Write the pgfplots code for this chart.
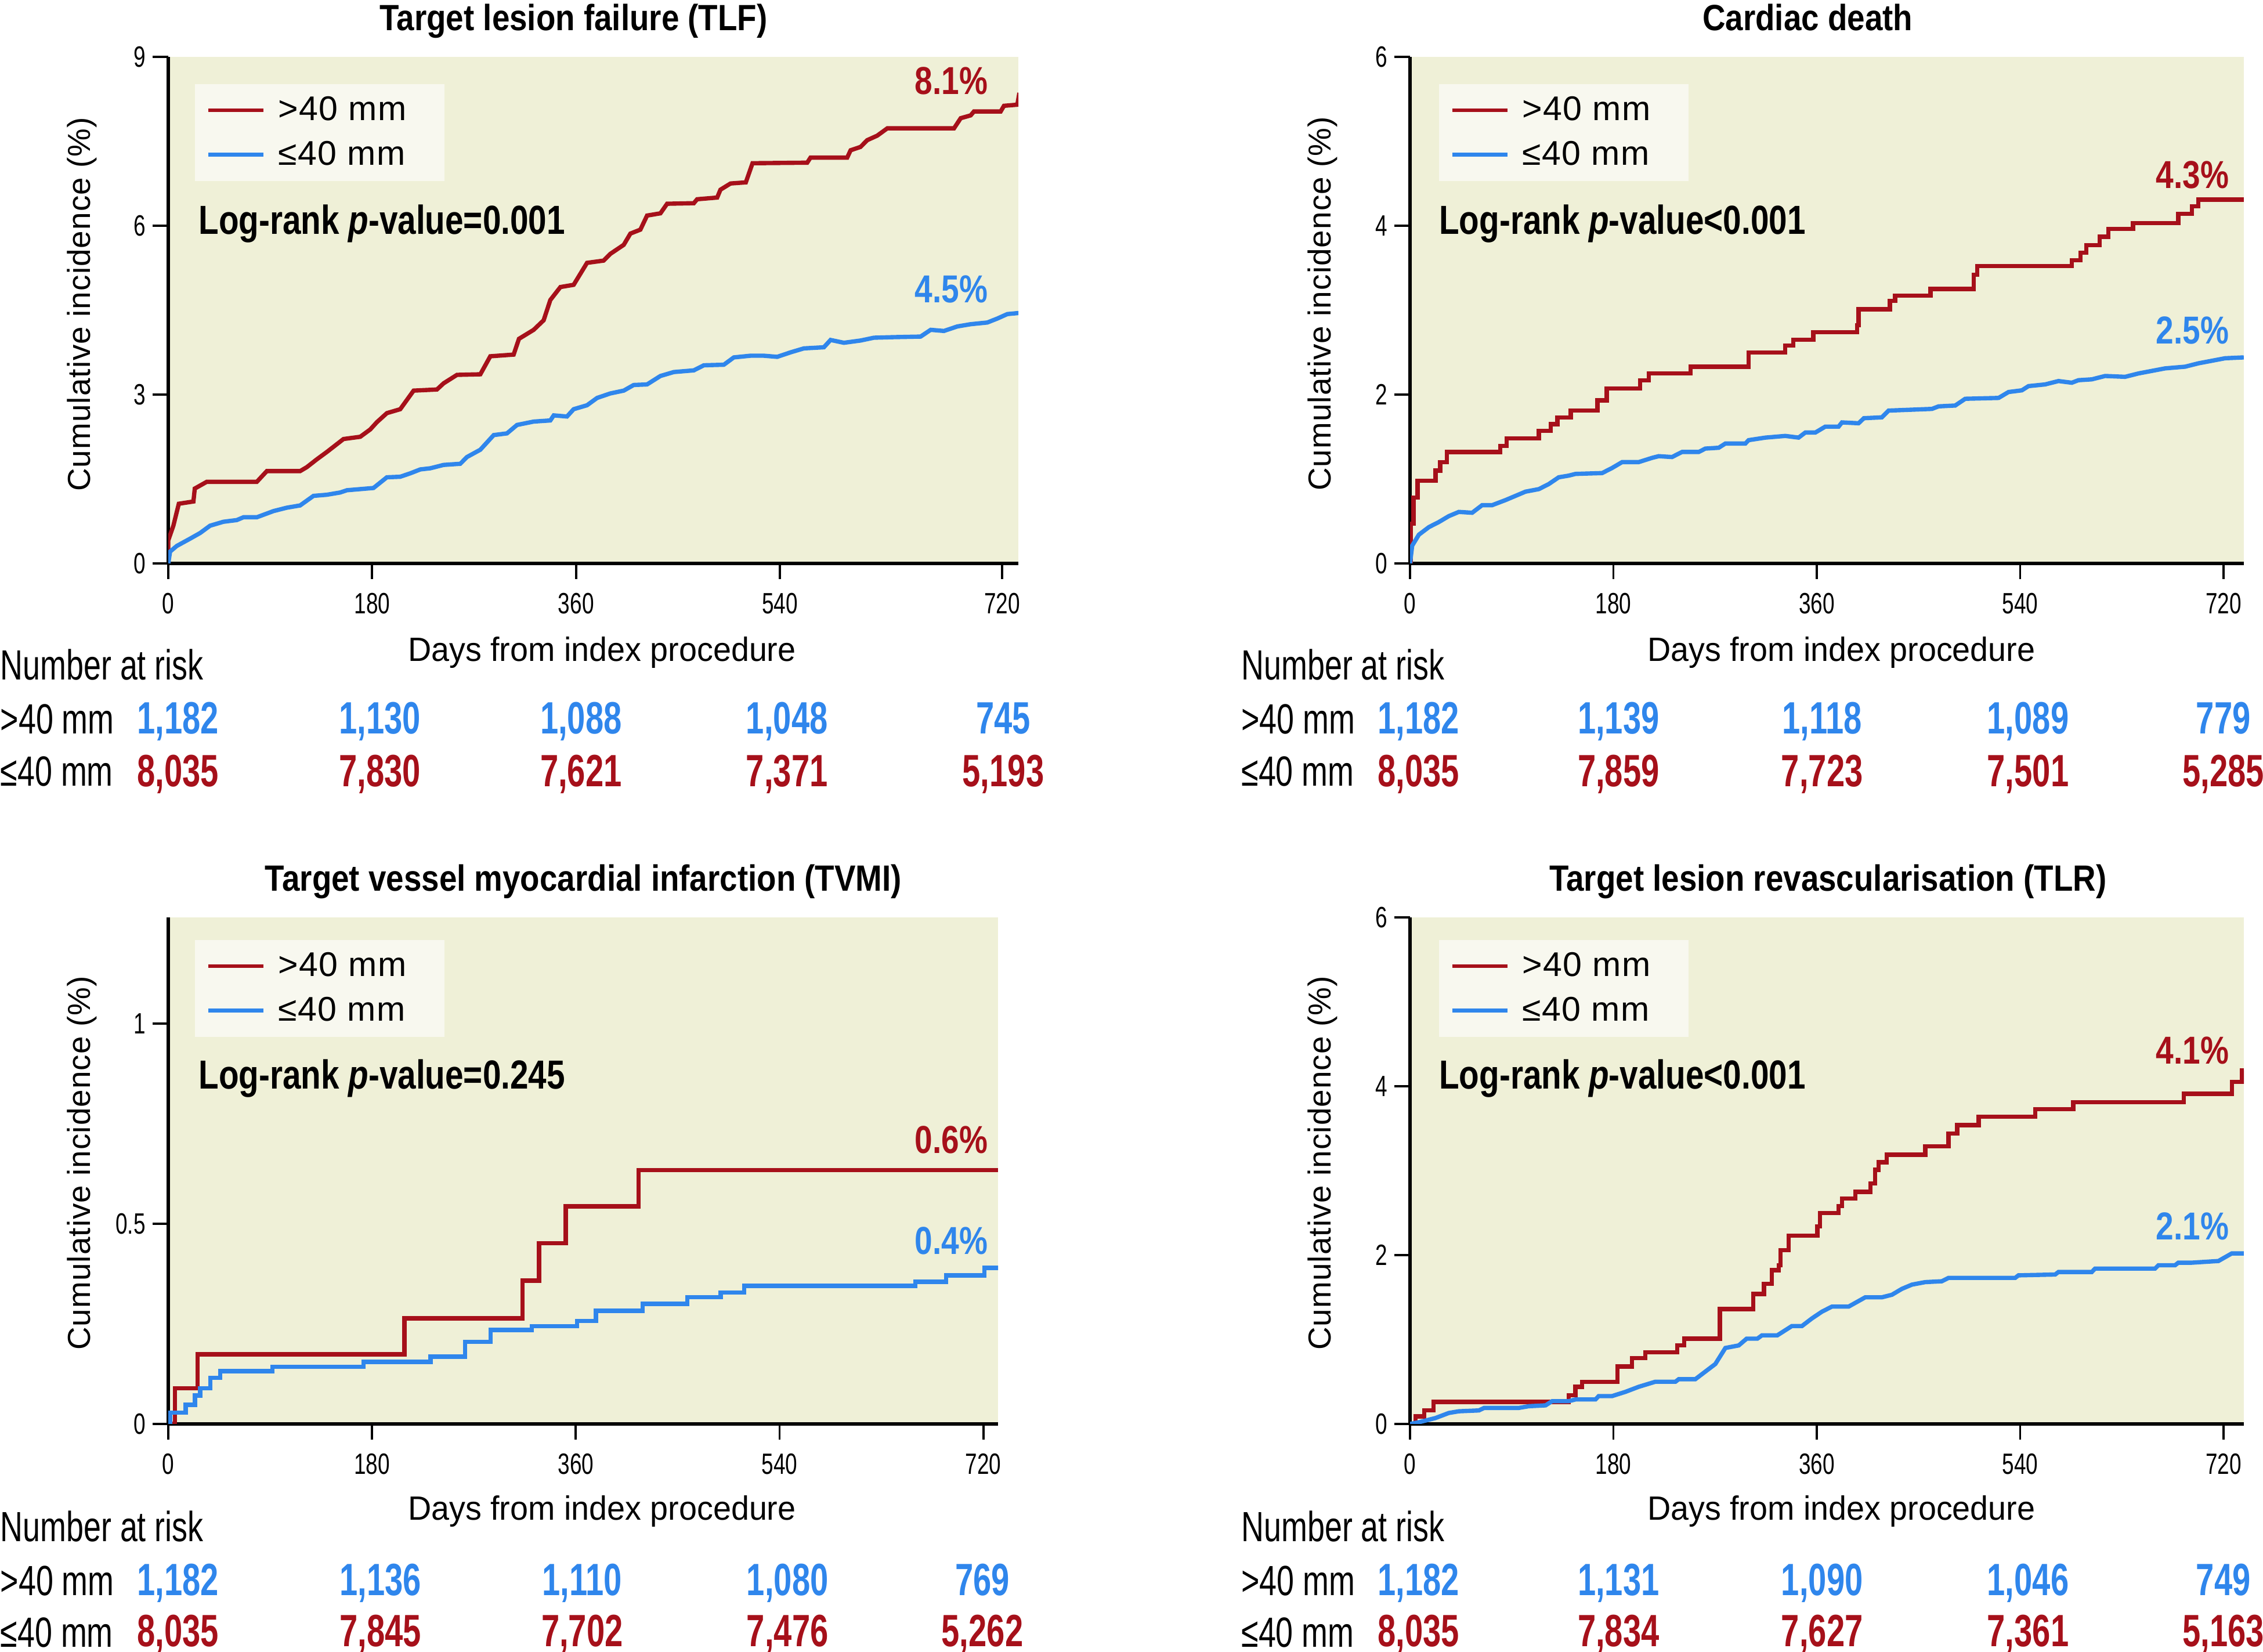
\documentclass[border=0pt]{standalone}
\usepackage{pgfplots}
\pgfplotsset{compat=1.18}
\usepackage{fontspec}
\setmainfont{Liberation Sans}
\newfontfamily\tickfam[FakeStretch=0.73]{Liberation Sans}
\newfontfamily\titlefam[FakeStretch=0.87]{Liberation Sans}
\newfontfamily\lrfam[FakeStretch=0.81]{Liberation Sans}
\newfontfamily\pctfam[FakeStretch=0.82]{Liberation Sans}
\newfontfamily\numfam[FakeStretch=0.72]{Liberation Sans}
\newfontfamily\nrfam[FakeStretch=0.74]{Liberation Sans}
\newfontfamily\daysfam[FakeStretch=0.96]{Liberation Sans}
\newfontfamily\ylabfam[LetterSpace=2]{Liberation Sans}
\newfontfamily\legfam[LetterSpace=3]{Liberation Sans}
\newcommand\tickfont{\tickfam\fontsize{14.4}{15}\selectfont}
\newcommand\titlefont{\titlefam\bfseries\fontsize{17.9}{20}\selectfont}
\newcommand\lrfont{\lrfam\bfseries\fontsize{19.9}{22}\selectfont}
\newcommand\pctfont{\pctfam\bfseries\fontsize{19.1}{21}\selectfont}
\newcommand\numfont{\numfam\bfseries\fontsize{22.2}{24}\selectfont}
\newcommand\nrfont{\nrfam\fontsize{20.7}{23}\selectfont}
\newcommand\daysfont{\daysfam\fontsize{16.5}{18}\selectfont}
\newcommand\ylabfont{\ylabfam\fontsize{15.6}{18}\selectfont}
\newcommand\legfont{\legfam\fontsize{16.8}{18}\selectfont}
\definecolor{kmred}{HTML}{A6101A}
\definecolor{kmblue}{HTML}{2F86EC}
\definecolor{bgcol}{HTML}{EFF0D7}
\definecolor{legbg}{HTML}{F8F8EF}
\pgfplotsset{
  kmstyle/.style={
    scale only axis, height=8.73cm,
    axis background/.style={fill=bgcol},
    axis x line*=bottom, axis y line*=left,
    axis line style={line width=1.5pt, black, -},
    tick align=outside, major tick length=0.27cm,
    every tick/.style={black, line width=1.1pt},
    xmin=0, ymin=0,
    xticklabel style={font=\tickfont, yshift=-0.12cm},
    yticklabel style={font=\tickfont},
    legend cell align=left,
    legend image code/.code={\draw[##1, line width=1.8pt] (0cm,0cm) -- (0.95cm,0cm);},
    legend style={at={(rel axis cs:0,1)}, anchor=north west, fill=legbg, draw=none,
      inner xsep=0.2cm, inner ysep=0.15cm, row sep=0.16cm, font=\legfont,
      /tikz/every odd column/.append style={column sep=0.15cm}},
  },
  redc/.style={color=kmred, line width=2.1pt},
  bluec/.style={color=kmblue, line width=2.1pt},
}
\begin{document}
\begin{tikzpicture}[t/.style={inner sep=0pt}]
\useasboundingbox (0,0) rectangle (39cm,28.47cm);

% ---------------- Top-left: TLF ----------------
\begin{axis}[kmstyle, at={(2.90cm,18.76cm)}, anchor=south west, width=14.65cm,
  xmax=750.5, ymax=9,
  xtick={0,180,360,540,736.2}, xticklabels={0,180,360,540,720},
  ytick={0,3,6,9}, yticklabels={0,3,6,9},
  legend style={xshift=0.45cm, yshift=-0.46cm}]
\addplot[redc] coordinates {(0,0)(0,0.41)(4.5,0.67)(9.3,1.06)(22.2,1.10)(23.4,1.33)(34,1.45)(78.2,1.45)(87,1.64)(116.4,1.64)(122.3,1.71)(131.2,1.85)(140,1.98)(154.7,2.21)(169.5,2.25)(178.3,2.38)(184.2,2.51)(193,2.67)(204.8,2.74)(216.6,3.07)(237.2,3.09)(243.1,3.20)(254.9,3.35)(275.5,3.36)(284.3,3.68)(304.9,3.71)(309.6,3.99)(322.6,4.15)(331.4,4.32)(337.3,4.68)(346.2,4.91)(357.9,4.95)(369.7,5.34)(384.4,5.38)(390.3,5.50)(402.1,5.66)(408,5.86)(416.8,5.93)(422.7,6.18)(434.5,6.22)(440.4,6.39)(464,6.40)(466.9,6.47)(484.6,6.50)(487.5,6.64)(496.4,6.75)(509.9,6.77)(515.8,7.11)(564.1,7.12)(567,7.21)(599.4,7.21)(602.4,7.34)(611.2,7.40)(617.1,7.52)(625.9,7.60)(634.8,7.73)(693.7,7.73)(699.6,7.91)(708.4,7.96)(711.3,8.03)(734.9,8.03)(737.8,8.13)(749.6,8.15)(751.4,8.36)};
\addlegendentry{\makebox[2.6cm][l]{>40 mm}}
\addplot[bluec] coordinates {(0,0)(1.6,0.21)(7.5,0.31)(19.3,0.44)(28.1,0.54)(36.9,0.67)(48.7,0.74)(60.5,0.77)(66.4,0.82)(78.2,0.82)(92.9,0.93)(104.7,0.99)(116.4,1.03)(128.2,1.20)(140,1.22)(151.8,1.26)(157.7,1.30)(181.2,1.34)(193,1.53)(204.8,1.54)(213.6,1.60)(222.5,1.67)(231.3,1.69)(243.1,1.75)(257.8,1.77)(263.7,1.89)(275.5,2.02)(287.3,2.28)(299,2.31)(307.9,2.46)(322.6,2.52)(337.3,2.54)(340.3,2.63)(352,2.61)(357.9,2.74)(369.7,2.81)(378.6,2.94)(390.3,3.02)(402.1,3.07)(410.9,3.17)(422.7,3.18)(434.5,3.33)(446.3,3.40)(464,3.43)(472.8,3.52)(490.5,3.53)(499.3,3.66)(514,3.69)(525.8,3.69)(537.6,3.67)(549.4,3.75)(561.1,3.82)(578.8,3.84)(584.7,3.97)(596.5,3.92)(611.2,3.96)(623,4.01)(640.7,4.02)(664.2,4.03)(673.1,4.15)(684.8,4.13)(696.6,4.21)(708.4,4.25)(723.1,4.28)(731.9,4.35)(740.8,4.43)(751.4,4.45)};
\addlegendentry{\makebox[2.6cm][l]{≤40 mm}}
\end{axis}

% ---------------- Top-right: Cardiac death ----------------
\begin{axis}[kmstyle, at={(24.30cm,18.76cm)}, anchor=south west, width=14.37cm,
  xmax=738, ymax=6,
  xtick={0,180,360,540,720}, xticklabels={0,180,360,540,720},
  ytick={0,2,4,6}, yticklabels={0,2,4,6},
  legend style={xshift=0.49cm, yshift=-0.46cm}]
\addplot[redc, const plot] coordinates {(0,0)(0.5,0.47)(3.1,0.78)(6.6,0.98)(22.5,1.10)(26.7,1.20)(32.6,1.32)(79.8,1.39)(85.6,1.48)(114,1.57)(124.6,1.65)(130.5,1.73)(142.3,1.81)(165.9,1.93)(174.1,2.07)(203.6,2.17)(211.3,2.25)(248.4,2.33)(299.7,2.50)(332.1,2.58)(339.2,2.65)(356.9,2.74)(395.8,2.82)(397,3.01)(424.7,3.11)(429.4,3.17)(460.7,3.25)(499,3.42)(502,3.52)(585.7,3.59)(593.4,3.68)(598.7,3.77)(610.5,3.87)(618.1,3.96)(639.9,4.03)(680,4.14)(691.9,4.23)(697.8,4.31)(738,4.31)};
\addlegendentry{\makebox[2.6cm][l]{>40 mm}}
\addplot[bluec] coordinates {(0,0)(1.9,0.21)(7.8,0.34)(16.7,0.43)(25.5,0.49)(34.3,0.56)(43.2,0.61)(55,0.60)(63.8,0.69)(72.7,0.69)(84.5,0.75)(102.2,0.85)(114,0.88)(122.8,0.94)(131.6,1.02)(140.5,1.04)(146.4,1.06)(170,1.07)(178.8,1.13)(187.7,1.20)(202.4,1.20)(214.2,1.25)(220.1,1.27)(231.9,1.26)(240.7,1.32)(255.5,1.32)(261.4,1.36)(273.2,1.37)(279.1,1.42)(296.8,1.42)(299.7,1.46)(314.5,1.49)(332.1,1.51)(343.9,1.49)(349.8,1.55)(358.7,1.55)(367.5,1.62)(379.3,1.62)(382.3,1.67)(397,1.66)(401.7,1.72)(417.6,1.73)(423.5,1.81)(461.9,1.83)(467.8,1.86)(482.5,1.87)(491.4,1.95)(520.9,1.96)(529.7,2.03)(541.5,2.05)(547.4,2.10)(562.1,2.12)(573.9,2.16)(585.7,2.14)(591.6,2.17)(603.4,2.18)(615.2,2.22)(632.9,2.21)(644.7,2.25)(668.3,2.31)(686,2.33)(697.8,2.37)(709.6,2.40)(721.4,2.43)(737.9,2.44)};
\addlegendentry{\makebox[2.6cm][l]{≤40 mm}}
\end{axis}

% ---------------- Bottom-left: TVMI ----------------
\begin{axis}[kmstyle, at={(2.90cm,3.93cm)}, anchor=south west, width=14.30cm,
  xmax=733, ymax=1.266,
  xtick={0,180,360,540,720}, xticklabels={0,180,360,540,720},
  ytick={0,0.5,1}, yticklabels={0,0.5,1},
  legend style={xshift=0.45cm, yshift=-0.38cm}]
\addplot[redc, const plot] coordinates {(0,0)(5.8,0.089)(25.9,0.174)(208.6,0.264)(312.9,0.358)(327.6,0.452)(351.2,0.544)(415.4,0.634)(733,0.634)};
\addlegendentry{\makebox[2.6cm][l]{>40 mm}}
\addplot[bluec, const plot] coordinates {(0,0)(1.7,0.028)(15.3,0.048)(23.5,0.071)(28.2,0.089)(37.1,0.115)(45.9,0.132)(91.9,0.143)(172.6,0.155)(231.6,0.168)(262.2,0.205)(284.6,0.235)(321.2,0.244)(361.2,0.257)(377.7,0.283)(419,0.300)(458.5,0.317)(488,0.328)(508.6,0.345)(660,0.355)(687.2,0.371)(720.8,0.390)(733.7,0.390)};
\addlegendentry{\makebox[2.6cm][l]{≤40 mm}}
\end{axis}

% ---------------- Bottom-right: TLR ----------------
\begin{axis}[kmstyle, at={(24.30cm,3.93cm)}, anchor=south west, width=14.37cm,
  xmax=738, ymax=6,
  xtick={0,180,360,540,720}, xticklabels={0,180,360,540,720},
  ytick={0,2,4,6}, yticklabels={0,2,4,6},
  legend style={xshift=0.49cm, yshift=-0.38cm}]
\addplot[redc, const plot] coordinates {(0,0)(4.9,0.09)(12.5,0.16)(20.8,0.26)(140.5,0.34)(146.4,0.44)(152.3,0.50)(183.5,0.68)(196.5,0.78)(208.3,0.85)(236.6,0.93)(242.5,1.01)(274.3,1.36)(303.8,1.54)(313.3,1.66)(320.3,1.82)(326.2,1.88)(328,2.06)(335.1,2.23)(360.5,2.34)(362.8,2.50)(379.3,2.58)(382.3,2.67)(394.1,2.75)(407.6,2.85)(411.7,3.01)(414.7,3.10)(421.8,3.19)(456,3.29)(476.6,3.44)(484.3,3.54)(503.2,3.64)(553.3,3.73)(586.9,3.81)(684.8,3.91)(727.3,4.05)(736.5,4.19)(738,4.19)};
\addlegendentry{\makebox[2.6cm][l]{>40 mm}}
\addplot[bluec] coordinates {(0,0)(7.8,0.02)(22.5,0.07)(28.4,0.10)(34.3,0.13)(43.2,0.15)(60.9,0.16)(65.6,0.19)(96.3,0.19)(105.1,0.21)(119.9,0.22)(125.8,0.27)(140.5,0.27)(146.4,0.29)(164.1,0.29)(167,0.33)(178.8,0.33)(190.6,0.38)(202.4,0.44)(217.1,0.50)(234.9,0.50)(237.8,0.53)(252.5,0.53)(258.4,0.59)(270.2,0.71)(279.1,0.90)(290.9,0.93)(297.9,1.01)(307.4,1.01)(311.5,1.05)(325.1,1.05)(338,1.16)(346.9,1.16)(355.7,1.25)(364.6,1.33)(373.4,1.39)(388.2,1.39)(402.9,1.50)(417.6,1.50)(426.5,1.53)(435.3,1.60)(444.2,1.65)(456,1.68)(470.7,1.69)(476.6,1.73)(535.6,1.73)(538.5,1.76)(571,1.77)(573.9,1.80)(603.4,1.80)(606.3,1.84)(659.4,1.84)(662.4,1.88)(677.1,1.88)(680,1.91)(691.9,1.91)(715.5,1.93)(727.3,2.02)(737.9,2.02)};
\addlegendentry{\makebox[2.6cm][l]{≤40 mm}}
\end{axis}

\begin{scope}[x=0.01cm, y=0.01cm]
% ---------------- Titles ----------------
\node[t, anchor=base, font=\titlefont] at (989,2796) {Target lesion failure (TLF)};
\node[t, anchor=base, font=\titlefont] at (3117,2796) {Cardiac death};
\node[t, anchor=base, font=\titlefont] at (1006,1312) {Target vessel myocardial infarction (TVMI)};
\node[t, anchor=base, font=\titlefont] at (3152,1312) {Target lesion revascularisation (TLR)};

% ---------------- Y labels ----------------
\node[t, rotate=90, font=\ylabfont] at (141,2324) {Cumulative incidence (\%)};
\node[t, rotate=90, font=\ylabfont] at (2281,2325) {Cumulative incidence (\%)};
\node[t, rotate=90, font=\ylabfont] at (141,843) {Cumulative incidence (\%)};
\node[t, rotate=90, font=\ylabfont] at (2281,843) {Cumulative incidence (\%)};

% ---------------- X labels ----------------
\node[t, anchor=base, font=\daysfont] at (1038,1708) {Days from index procedure};
\node[t, anchor=base, font=\daysfont] at (3175,1708) {Days from index procedure};
\node[t, anchor=base, font=\daysfont] at (1038,228) {Days from index procedure};
\node[t, anchor=base, font=\daysfont] at (3175,228) {Days from index procedure};

% ---------------- Log-rank ----------------
\node[t, anchor=base west, font=\lrfont] at (342,2445) {Log-rank \textit{p}-value=0.001};
\node[t, anchor=base west, font=\lrfont] at (2481,2445) {Log-rank \textit{p}-value<0.001};
\node[t, anchor=base west, font=\lrfont] at (342,971) {Log-rank \textit{p}-value=0.245};
\node[t, anchor=base west, font=\lrfont] at (2481,971) {Log-rank \textit{p}-value<0.001};

% ---------------- End percentages ----------------
\node[t, anchor=base east, font=\pctfont, text=kmred] at (1704,2686) {8.1\%};
\node[t, anchor=base east, font=\pctfont, text=kmblue] at (1704,2327) {4.5\%};
\node[t, anchor=base east, font=\pctfont, text=kmred] at (3844,2524) {4.3\%};
\node[t, anchor=base east, font=\pctfont, text=kmblue] at (3844,2256) {2.5\%};
\node[t, anchor=base east, font=\pctfont, text=kmred] at (1704,860) {0.6\%};
\node[t, anchor=base east, font=\pctfont, text=kmblue] at (1704,686) {0.4\%};
\node[t, anchor=base east, font=\pctfont, text=kmred] at (3844,1014) {4.1\%};
\node[t, anchor=base east, font=\pctfont, text=kmblue] at (3844,711) {2.1\%};

% ---------------- Number at risk ----------------
\foreach \xo/\yo in {0/1676, 2140/1676, 0/191, 2140/191} {
  \node[t, anchor=base west, font=\nrfont] at (\xo,\yo) {Number at risk};
  \node[t, anchor=base west, font=\nrfont] at (\xo,\yo-93) {>40 mm};
  \node[t, anchor=base west, font=\nrfont] at (\xo,\yo-183) {≤40 mm};
}
\foreach \x/\a/\b in {307/1{,}182/8{,}035, 655/1{,}130/7{,}830, 1002/1{,}088/7{,}621, 1357/1{,}048/7{,}371, 1730/745/5{,}193} {
  \node[t, anchor=base, font=\numfont, text=kmblue] at (\x,1583) {\a};
  \node[t, anchor=base, font=\numfont, text=kmred] at (\x,1492) {\b};
}
\foreach \x/\a/\b in {2446/1{,}182/8{,}035, 2791/1{,}139/7{,}859, 3142/1{,}118/7{,}723, 3497/1{,}089/7{,}501, 3834/779/5{,}285} {
  \node[t, anchor=base, font=\numfont, text=kmblue] at (\x,1583) {\a};
  \node[t, anchor=base, font=\numfont, text=kmred] at (\x,1492) {\b};
}
\foreach \x/\a/\b in {307/1{,}182/8{,}035, 656/1{,}136/7{,}845, 1004/1{,}110/7{,}702, 1358/1{,}080/7{,}476, 1694/769/5{,}262} {
  \node[t, anchor=base, font=\numfont, text=kmblue] at (\x,98) {\a};
  \node[t, anchor=base, font=\numfont, text=kmred] at (\x,9) {\b};
}
\foreach \x/\a/\b in {2446/1{,}182/8{,}035, 2791/1{,}131/7{,}834, 3142/1{,}090/7{,}627, 3497/1{,}046/7{,}361, 3834/749/5{,}163} {
  \node[t, anchor=base, font=\numfont, text=kmblue] at (\x,98) {\a};
  \node[t, anchor=base, font=\numfont, text=kmred] at (\x,9) {\b};
}
\end{scope}
\end{tikzpicture}
\end{document}
